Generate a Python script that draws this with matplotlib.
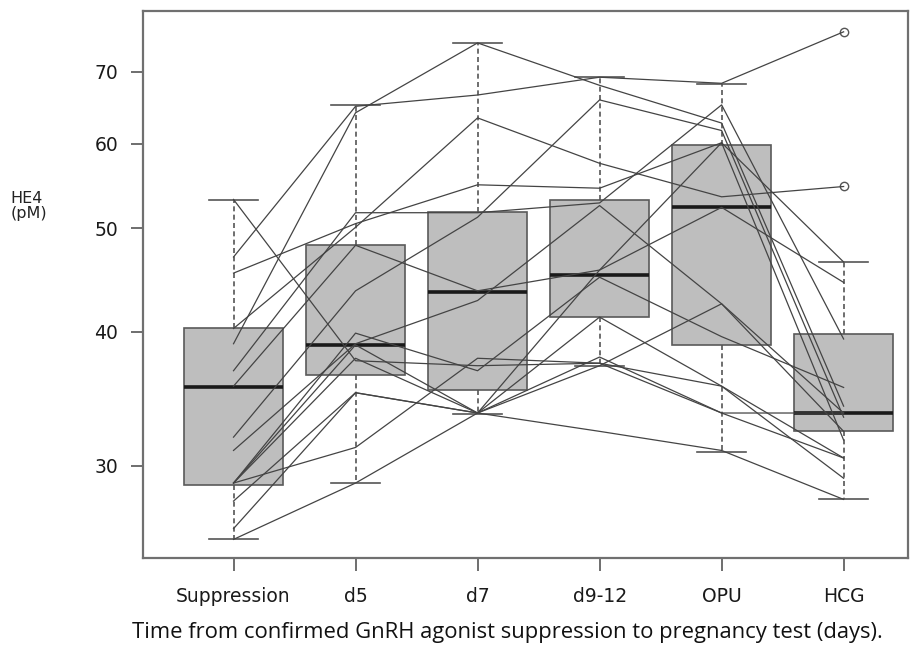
import matplotlib
matplotlib.use('Agg')
import matplotlib.pyplot as plt
from matplotlib.ticker import NullFormatter, NullLocator

# Timepoints
timepoints = ['Suppression', 'd5', 'd7', 'd9-12', 'OPU', 'HCG']

# Box summary (HE4, pM)
whisk_lo = [25.6, 28.9, 33.5, 37.2, 30.9, 27.9]
q1 = [28.8, 36.5, 35.3, 41.3, 38.9, 32.3]
medians = [35.5, 38.9, 43.6, 45.2, 52.3, 33.6]
q3 = [40.3, 48.2, 51.8, 53.1, 59.8, 39.8]
whisk_hi = [53.1, 65.2, 74.5, 69.2, 68.2, 46.5]
outliers = [[], [], [], [], [], [76.3, 54.7]]

# Individual patients (one list per patient, values at each timepoint)
p01 = [47.0, 65.0, 66.6, 69.2, 68.3, 76.3]
p02 = [39.0, 64.1, 74.5, 68.0, 62.7, 34.1]
p03 = [53.2, 37.6, 37.2, 37.4, 35.6, 30.5]
p04 = [45.4, 50.5, 54.9, 54.5, 60.1, 31.7]
p05 = [40.3, 50.1, 63.4, 57.5, 53.5, 54.7]
p06 = [36.8, 51.7, 51.7, 52.8, 65.2, 39.4]
p07 = [35.6, 48.2, 43.7, 45.7, 52.3, 44.5]
p08 = [31.9, 43.7, 51.2, 65.9, 61.7, 33.3]
p09 = [31.0, 39.0, 42.8, 52.5, 42.5, 33.6]
p10 = [28.9, 39.9, 36.8, 45.0, 39.6, 35.5]
p11 = [28.9, 38.9, 33.6, 41.3, 35.6, 29.2]
p12 = [28.9, 37.8, 33.6, 37.9, 33.6, 33.6]
p13 = [27.8, 35.1, 33.6, 45.7, 60.1, 46.5]
p14 = [26.2, 35.1, 33.6, 32.3, 31.0, 27.9]
p15 = [25.6, 28.9, 33.6, 37.2, 42.5, 32.3]
p16 = [28.9, 31.2, 37.8, 37.4, 33.6, 30.5]
patients = [p01, p02, p03, p04, p05, p06, p07, p08,
            p09, p10, p11, p12, p13, p14, p15, p16]

yticks = [30, 40, 50, 60, 70]

positions = list(range(1, len(timepoints) + 1))

stats = []
for i in range(len(timepoints)):
    stats.append({'whislo': whisk_lo[i], 'q1': q1[i], 'med': medians[i],
                  'q3': q3[i], 'whishi': whisk_hi[i], 'fliers': outliers[i]})

fig = plt.figure(figsize=(9.24, 6.45), dpi=100)
ax = fig.add_axes([0.155, 0.135, 0.828, 0.848])

ax.bxp(stats, positions=positions, widths=0.81, patch_artist=True,
       boxprops=dict(facecolor='#bebebe', edgecolor='#5a5a5a', linewidth=1.2),
       medianprops=dict(color='#1a1a1a', linewidth=2.6),
       whiskerprops=dict(color='#555555', linestyle=(0, (3, 2)), linewidth=1.2),
       capprops=dict(color='#555555', linewidth=1.2),
       capwidths=0.4,
       flierprops=dict(marker='o', markersize=6, markerfacecolor='none',
                       markeredgecolor='#555555', markeredgewidth=1.0))

# Spaghetti lines, one per patient
for p in patients:
    ax.plot(positions, p, color='#444444', linewidth=0.9, zorder=3)

ax.set_yscale('log')
ax.set_ylim(24.6, 79.8)
ax.set_xlim(0.26, 6.53)
ax.yaxis.set_major_locator(plt.FixedLocator(yticks))
ax.yaxis.set_minor_locator(NullLocator())
ax.yaxis.set_minor_formatter(NullFormatter())
ax.set_yticklabels([str(t) for t in yticks])
ax.set_xticks(positions)
ax.set_xticklabels(timepoints)

for lab in ax.get_xticklabels() + ax.get_yticklabels():
    lab.set_fontfamily('DejaVu Sans')
    lab.set_fontsize(13.5)
    lab.set_color('#1a1a1a')

ax.tick_params(axis='both', length=9, width=1.2, color='#555555')
ax.tick_params(axis='y', pad=9)
ax.tick_params(axis='x', pad=12)

for s in ax.spines.values():
    s.set_color('#707070')
    s.set_linewidth(1.6)

fig.text(0.011, 0.68, 'HE4\n(pM)', fontsize=11.5, family='DejaVu Sans',
         color='#222222', va='center', ha='left', linespacing=1.0)

fig.text(0.549, 0.02, 'Time from confirmed GnRH agonist suppression to pregnancy test (days).',
         fontsize=15.8, family='Open Sans', color='#111111', ha='center', va='center')

fig.savefig('out.png', dpi=100)
